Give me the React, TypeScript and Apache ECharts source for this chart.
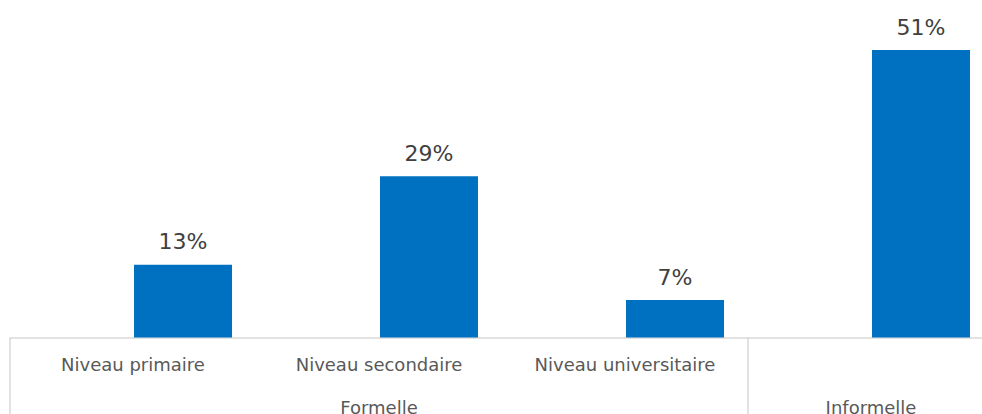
import React, { useEffect, useRef } from "react";
import * as echarts from "echarts";

const categories = ["Niveau primaire", "Niveau secondaire", "Niveau universitaire", ""];
const values = [12.9, 28.6, 6.65, 51.0];
// group labels on a half-category grid (0..8), centred at 3 and 7
const groupSlots = ["", "", "", "Formelle", "", "", "", "Informelle", ""];
const groupBoundaries = [0, 6];

export default function App() {
  const ref = useRef<HTMLDivElement>(null);
  useEffect(() => {
    if (!ref.current) return;
    const chart = echarts.init(ref.current, null, { renderer: "svg" });
    const font = "'DejaVu Sans', Verdana, sans-serif";
    const baseY = 337.5;
    const bottom = 414 - baseY;
    const yMax = 55;
    const pxPer = 287.5 / 51;
    const top = baseY - yMax * pxPer;
    chart.setOption({
      animation: false,
      grid: [
        { left: 60, width: 984, top, bottom, outerBoundsMode: "none", containLabel: false },
        { left: 10, width: 984, top, bottom, outerBoundsMode: "none", containLabel: false },
      ],
      xAxis: [
        {
          type: "category",
          gridIndex: 0,
          data: categories,
          show: false,
        },
        {
          type: "category",
          gridIndex: 1,
          data: categories,
          axisLine: { show: true, lineStyle: { color: "#d9d9d9", width: 1.5 } },
          axisTick: { show: false },
          axisLabel: { color: "#595959", fontSize: 18, fontFamily: font, margin: 18, interval: 0 },
        },
        {
          type: "category",
          gridIndex: 1,
          position: "bottom",
          boundaryGap: false,
          data: groupSlots,
          axisLine: { show: false },
          axisTick: {
            show: true,
            inside: false,
            length: 80,
            interval: (i: number) => groupBoundaries.includes(i),
            lineStyle: { color: "#d9d9d9", width: 1.5 },
          },
          axisLabel: { color: "#595959", fontSize: 18, fontFamily: font, margin: 61, interval: 0 },
        },
      ],
      yAxis: [
        { type: "value", gridIndex: 0, min: 0, max: yMax, show: false },
        { type: "value", gridIndex: 1, min: 0, max: yMax, show: false },
      ],
      series: [
        {
          type: "bar",
          xAxisIndex: 0,
          yAxisIndex: 0,
          data: values,
          barWidth: 98,
          itemStyle: { color: "#0070C0" },
          label: {
            show: true,
            position: "top",
            distance: 12,
            color: "#404040",
            fontSize: 22,
            fontFamily: font,
            formatter: (p: any) => Math.round(p.value) + "%",
          },
        },
      ],
    });
    return () => chart.dispose();
  }, []);
  return (
    <div
      ref={ref}
      style={{ position: "fixed", left: 0, top: 0, width: 982, height: 414, background: "#fff" }}
    />
  );
}
